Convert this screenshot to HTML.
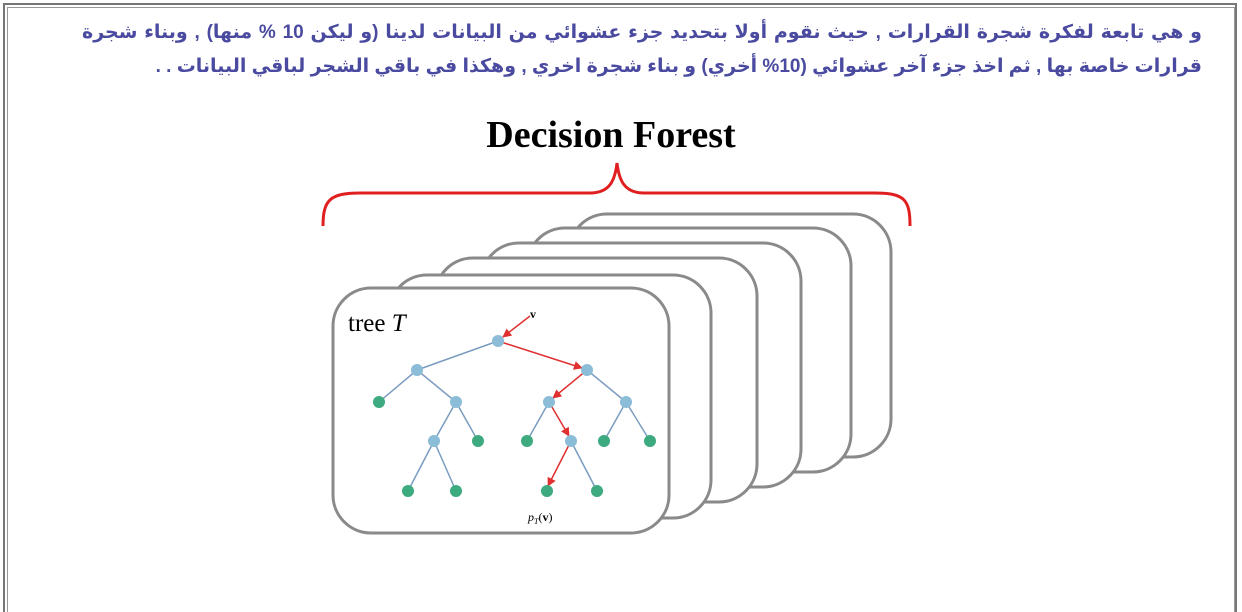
<!DOCTYPE html>
<html><head><meta charset="utf-8"><style>
html,body{margin:0;width:1242px;height:612px;background:#fff;overflow:hidden;position:relative}
.f1{position:absolute;left:3px;top:3px;width:1234px;height:609px;border:2px solid #777;border-bottom:none;box-sizing:border-box}
.f2{position:absolute;left:7px;top:7px;width:1228px;height:605px;border:1px solid #999;border-bottom:none;box-sizing:border-box}
.ar{position:absolute;right:40px;top:16px;width:1120px;direction:rtl;text-align:justify;text-align-last:right;font-family:"Liberation Sans","DejaVu Sans",sans-serif;font-size:19px;font-weight:bold;color:#4a4aa0;line-height:34px}
</style></head><body>
<div class="f1"></div><div class="f2"></div>
<div class="ar">و هي تابعة لفكرة شجرة القرارات , حيث نقوم أولا بتحديد جزء عشوائي من البيانات لدينا (و ليكن 10 % منها) , وبناء شجرة قرارات خاصة بها , ثم اخذ جزء آخر عشوائي (10% أخري) و بناء شجرة اخري , وهكذا في باقي الشجر لباقي البيانات . .</div>
<svg width="1242" height="612" style="position:absolute;left:0;top:0">
<defs><marker id="a" viewBox="0 0 10 10" refX="9" refY="5" markerWidth="6" markerHeight="6" orient="auto"><path d="M0,0 L10,5 L0,10 z" fill="#e03030"/></marker></defs>
<text x="611" y="147" text-anchor="middle" font-family="Liberation Serif,serif" font-weight="bold" font-size="38">Decision Forest</text>
<path d="M323,226 C323,200 330,193 360,193 L590,193 C610,193 615,180 617,163 C619,180 624,193 644,193 L875,193 C905,193 910,200 910,226" fill="none" stroke="#e02020" stroke-width="3"/>
<g fill="#fff" stroke="#8a8a8a" stroke-width="3">
<rect x="569" y="214" width="322" height="243" rx="38"/>
<rect x="527" y="228" width="324" height="244" rx="38"/>
<rect x="481" y="243" width="320" height="244" rx="38"/>
<rect x="435" y="258" width="322" height="244" rx="38"/>
<rect x="389" y="275" width="322" height="243" rx="38"/>
<rect x="333" y="288" width="336" height="245" rx="38"/>
</g>
<text x="348" y="331" font-family="Liberation Serif,serif" font-size="25">tree <tspan font-style="italic">T</tspan></text>
<g stroke="#7a9cc0" stroke-width="1.5">
<line x1="498" y1="341" x2="417" y2="370"/>
<line x1="417" y1="370" x2="379" y2="402"/><line x1="417" y1="370" x2="456" y2="402"/>
<line x1="456" y1="402" x2="434" y2="441"/><line x1="456" y1="402" x2="478" y2="441"/>
<line x1="434" y1="441" x2="408" y2="491"/><line x1="434" y1="441" x2="456" y2="491"/>
<line x1="587" y1="370" x2="626" y2="402"/>
<line x1="549" y1="402" x2="527" y2="441"/>
<line x1="626" y1="402" x2="604" y2="441"/><line x1="626" y1="402" x2="650" y2="441"/>
<line x1="571" y1="441" x2="597" y2="491"/>
</g>
<g stroke="#e03030" stroke-width="1.5" marker-end="url(#a)">
<line x1="530" y1="316" x2="503" y2="337"/>
<line x1="498" y1="341" x2="582" y2="368"/>
<line x1="587" y1="370" x2="553" y2="398"/>
<line x1="549" y1="402" x2="569" y2="436"/>
<line x1="571" y1="441" x2="548" y2="486"/>
</g>
<g fill="#8bbcd8">
<circle cx="498" cy="341" r="6"/><circle cx="417" cy="370" r="6"/><circle cx="587" cy="370" r="6"/>
<circle cx="456" cy="402" r="6"/><circle cx="549" cy="402" r="6"/><circle cx="626" cy="402" r="6"/>
<circle cx="434" cy="441" r="6"/><circle cx="571" cy="441" r="6"/>
</g>
<g fill="#3daa80">
<circle cx="379" cy="402" r="6"/><circle cx="478" cy="441" r="6"/><circle cx="527" cy="441" r="6"/>
<circle cx="604" cy="441" r="6"/><circle cx="650" cy="441" r="6"/><circle cx="408" cy="491" r="6"/>
<circle cx="456" cy="491" r="6"/><circle cx="547" cy="491" r="6"/><circle cx="597" cy="491" r="6"/>
</g>
<text x="530" y="318" font-family="Liberation Serif,serif" font-weight="bold" font-size="12">v</text>
<text x="528" y="521" font-family="Liberation Serif,serif" font-size="12"><tspan font-style="italic">p</tspan><tspan font-size="8" font-style="italic" dy="3">T</tspan><tspan dy="-3">(</tspan><tspan font-weight="bold">v</tspan>)</text>
</svg>
</body></html>
